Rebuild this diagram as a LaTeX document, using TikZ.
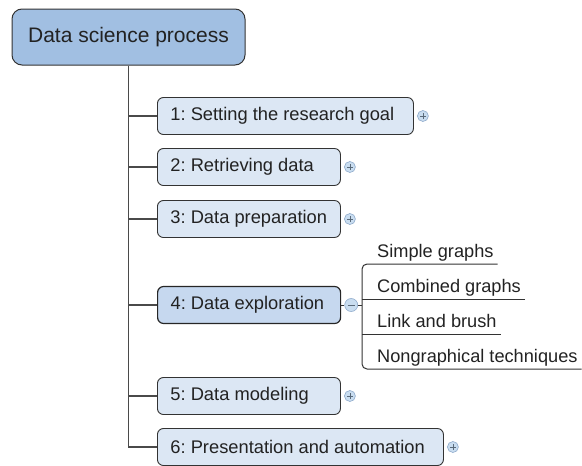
\documentclass[tikz,border=0pt]{standalone}
\usepackage{fontspec}
\setmainfont{Liberation Sans}
\definecolor{rootfill}{HTML}{A1BFE2}
\definecolor{topicfill}{HTML}{DCE7F4}
\definecolor{selfill}{HTML}{C6D8EF}
\definecolor{edgec}{HTML}{333333}
\definecolor{ink}{HTML}{222222}
\definecolor{linec}{HTML}{4A4A4A}
\definecolor{circfill}{HTML}{C9DDF0}
\definecolor{circedge}{HTML}{8FAACB}
\definecolor{signc}{HTML}{5A6A7A}
\newcommand\leftbox[2]{\makebox[#1][l]{#2}}
\frenchspacing
\begin{document}
\begin{tikzpicture}[x=1pt,y=-1pt,
  rootbox/.style={draw=edgec, line width=1pt, fill=rootfill, rounded corners=10pt,
    minimum width=233pt, minimum height=56pt, inner sep=0pt,
    font=\fontsize{21}{25}\selectfont, text=ink},
  topic/.style={draw=edgec, line width=0.9pt, fill=topicfill, rounded corners=6pt,
    minimum height=37pt, anchor=west, inner xsep=13pt, inner ysep=0pt,
    font=\fontsize{18.3}{22}\selectfont, text=ink},
  seltopic/.style={topic, fill=selfill, line width=1.2pt, draw=black!85},
  sub/.style={anchor=south west, inner xsep=4pt, inner ysep=0pt, text depth=6pt,
    font=\fontsize{18.2}{22}\selectfont, text=ink},
  conn/.style={draw=linec, line width=1.2pt},
  subline/.style={draw=edgec, line width=1pt},
  circbase/.style={circle, draw=circedge, fill=circfill, minimum size=11pt, inner sep=0pt, line width=0.6pt},
  plusc/.style={circbase, path picture={\draw[signc, line width=0.8pt]
      ([xshift=-3pt]path picture bounding box.center) -- ([xshift=3pt]path picture bounding box.center)
      ([yshift=-3pt]path picture bounding box.center) -- ([yshift=3pt]path picture bounding box.center);}},
  minusc/.style={circbase, minimum size=13pt, path picture={\draw[signc, line width=0.8pt]
      ([xshift=-3.5pt]path picture bounding box.center) -- ([xshift=3.5pt]path picture bounding box.center);}}
]
\useasboundingbox (0,0) rectangle (582,466);

% root
\node[rootbox] (root) at (128.5,37) {Data science process};

% topics
\node[topic] (b1) at (157,116) {\leftbox{230pt}{1: Setting the research goal}};
\node[topic] (b2) at (157,167) {\leftbox{157pt}{2: Retrieving data}};
\node[topic] (b3) at (157,219) {\leftbox{157pt}{3: Data preparation}};
\node[seltopic] (b4) at (157,305) {\leftbox{157pt}{4: Data exploration}};
\node[topic] (b5) at (157,396) {\leftbox{157pt}{5: Data modeling}};
\node[topic] (b6) at (157,447) {\leftbox{260pt}{6: Presentation and automation}};

% expand/collapse markers
\node[plusc] (c1) at ([xshift=9pt]b1.east) {};
\node[plusc] (c2) at ([xshift=9pt]b2.east) {};
\node[plusc] (c3) at ([xshift=9pt]b3.east) {};
\node[minusc] (c4) at ([xshift=10pt]b4.east) {};
\node[plusc] (c5) at ([xshift=9pt]b5.east) {};
\node[plusc] (c6) at ([xshift=9pt]b6.east) {};

% trunk and branches
\draw[conn] (root.south) |- (b6.west);
\draw[conn] (b1.west -| root.south) -- (b1.west);
\draw[conn] (b2.west -| root.south) -- (b2.west);
\draw[conn] (b3.west -| root.south) -- (b3.west);
\draw[conn] (b4.west -| root.south) -- (b4.west);
\draw[conn] (b5.west -| root.south) -- (b5.west);

% subtopics of 4
\coordinate (bx) at (362,305);
\node[sub] (s1) at (373,264) {Simple graphs};
\node[sub] (s2) at (373,299) {Combined graphs};
\node[sub] (s3) at (373,334) {Link and brush};
\node[sub] (s4) at (373,369) {Nongraphical techniques};

\draw[subline] (b4.east) -- (c4.west);
\draw[subline] (c4.east) -- (bx);
\draw[subline, rounded corners=5pt] (s1.south east) -| (bx) |- (s4.south east);
\draw[subline] (s2.south east) -- (s2.south east -| bx);
\draw[subline] (s3.south east) -- (s3.south east -| bx);
\end{tikzpicture}
\end{document}
